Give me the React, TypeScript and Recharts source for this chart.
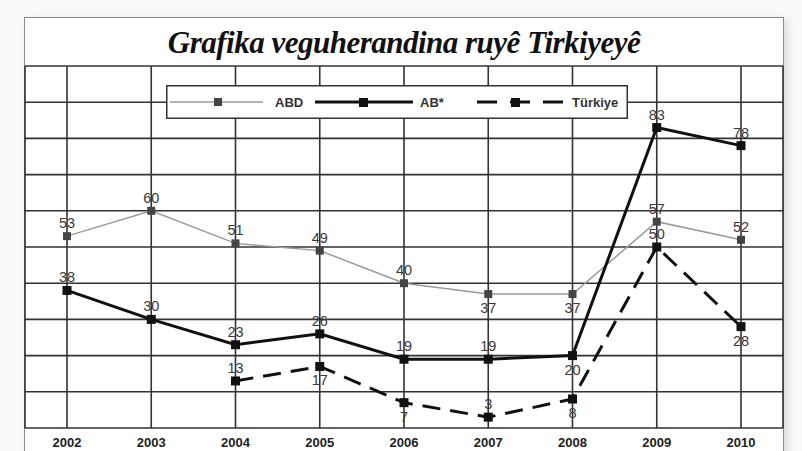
import React from 'react';
import { LineChart, Line, XAxis, YAxis, CartesianGrid, LabelList, Legend } from 'recharts';

const years = ['2002', '2003', '2004', '2005', '2006', '2007', '2008', '2009', '2010'];
const abdValues = [53, 60, 51, 49, 40, 37, 37, 57, 52];
const abValues = [38, 30, 23, 26, 19, 19, 20, 83, 78];
const trValues: (number | null)[] = [null, null, 13, 17, 7, 3, 8, 50, 28];
const yTicks = [0, 10, 20, 30, 40, 50, 60, 70, 80, 90, 100];
const seriesNames = ['ABD', 'AB*', 'Türkiye'];
const titleText = 'Grafika veguherandina ruyê Tirkiyeyê';

const abdLabelSide = ['up', 'up', 'up', 'up', 'up', 'down', 'down', 'up', 'up'];
const abLabelSide = ['up', 'up', 'up', 'up', 'up', 'up', 'down', 'up', 'up'];
const trLabelSide = ['up', 'up', 'up', 'down', 'down', 'up', 'down', 'up', 'down'];

const data = years.map((y, i) => ({ year: y, abd: abdValues[i], ab: abValues[i], tr: trValues[i] }));

const squareDot = (name: string, size: number, fill: string) => (props: any) => {
  const { cx, cy, index, value } = props;
  if (cx == null || cy == null || value == null || Number.isNaN(cy)) return <g key={`${name}-${index}`} />;
  return <rect key={`${name}-${index}`} x={cx - size / 2} y={cy - size / 2} width={size} height={size} fill={fill} />;
};

const makeLabel = (sides: string[]) => (props: any) => {
  const { x, y, value, index } = props;
  if (value == null || x == null || y == null) return null;
  const up = sides[index] === 'up';
  return (
    <text x={x} y={up ? y - 8 : y + 19} textAnchor="middle" fontSize={14.5} fill="#3a3a3a" fontFamily="'Liberation Sans', Arial, sans-serif">
      {value}
    </text>
  );
};

const LegendBox = () => (
  <svg width={462} height={34} style={{ display: 'block' }}>
    <rect x={0.75} y={0.75} width={460.5} height={32.5} fill="#fff" stroke="#333" strokeWidth={1.5} />
    <line x1={4} x2={97} y1={17} y2={17} stroke="#999" strokeWidth={1.5} />
    <rect x={48} y={13} width={8} height={8} fill="#444" />
    <text x={109} y={22} fontSize={13} fontWeight="bold" fill="#333" fontFamily="'Liberation Sans', Arial, sans-serif">{seriesNames[0]}</text>
    <line x1={149} x2={247} y1={17} y2={17} stroke="#111" strokeWidth={3} />
    <rect x={193} y={13} width={9} height={9} fill="#111" />
    <text x={254} y={22} fontSize={13} fontWeight="bold" fill="#333" fontFamily="'Liberation Sans', Arial, sans-serif">{seriesNames[1]}</text>
    <line x1={311} x2={397} y1={17} y2={17} stroke="#111" strokeWidth={3} strokeDasharray="20 13" />
    <rect x={345} y={13} width={9} height={9} fill="#111" />
    <text x={406} y={22} fontSize={13} fontWeight="bold" fill="#333" fontFamily="'Liberation Sans', Arial, sans-serif">{seriesNames[2]}</text>
  </svg>
);

export default function App() {
  return (
    <div style={{ position: 'absolute', left: 0, top: 0, width: 802, height: 451, background: '#fafafa', overflow: 'hidden' }}>
      <div
        style={{
          position: 'absolute',
          left: 24,
          top: 17,
          width: 758,
          height: 480,
          background: '#fff',
          border: '1.5px solid #8a8a8a',
          boxShadow: '4px 2px 8px rgba(0,0,0,0.12)',
        }}
      />
      <div
        style={{
          position: 'absolute',
          left: 25,
          top: 19,
          width: 758,
          height: 48,
          lineHeight: '48px',
          textAlign: 'center',
          fontFamily: "'Liberation Serif', 'Times New Roman', serif",
          fontStyle: 'italic',
          fontWeight: 'bold',
          fontSize: 31,
          letterSpacing: '-0.5px',
          color: '#111',
        }}
      >
        {titleText}
      </div>
      <div style={{ position: 'absolute', left: 0, top: 0 }}>
        <LineChart width={802} height={451} data={data} margin={{ top: 66, right: 19, bottom: 3, left: 25 }}>
          <CartesianGrid stroke="#333" strokeWidth={1.6} />
          <XAxis
            dataKey="year"
            padding={{ left: 42, right: 42 }}
            height={20}
            axisLine={false}
            tickLine={false}
            tick={{ fontSize: 13, fontWeight: 'bold', fill: '#222', fontFamily: "'Liberation Sans', Arial, sans-serif" }}
            tickMargin={4}
            interval={0}
          />
          <YAxis hide domain={[0, 100]} ticks={yTicks} />
          <Legend
            layout="horizontal"
            verticalAlign="middle"
            align="center"
            wrapperStyle={{ position: 'absolute', left: 166, top: 85, width: 462, height: 34 }}
            content={() => <LegendBox />}
          />
          <Line
            dataKey="abd"
            name={seriesNames[0]}
            stroke="#9a9a9a"
            strokeWidth={1.5}
            dot={squareDot('abd', 8, '#444')}
            activeDot={false}
            isAnimationActive={false}
          >
            <LabelList dataKey="abd" content={makeLabel(abdLabelSide)} />
          </Line>
          <Line
            dataKey="ab"
            name={seriesNames[1]}
            stroke="#111"
            strokeWidth={3}
            dot={squareDot('ab', 9, '#111')}
            activeDot={false}
            isAnimationActive={false}
          >
            <LabelList dataKey="ab" content={makeLabel(abLabelSide)} />
          </Line>
          <Line
            dataKey="tr"
            name={seriesNames[2]}
            stroke="#111"
            strokeWidth={3}
            strokeDasharray="18 10"
            dot={squareDot('tr', 9, '#111')}
            activeDot={false}
            connectNulls={false}
            isAnimationActive={false}
          >
            <LabelList dataKey="tr" content={makeLabel(trLabelSide)} />
          </Line>
        </LineChart>
      </div>
    </div>
  );
}
